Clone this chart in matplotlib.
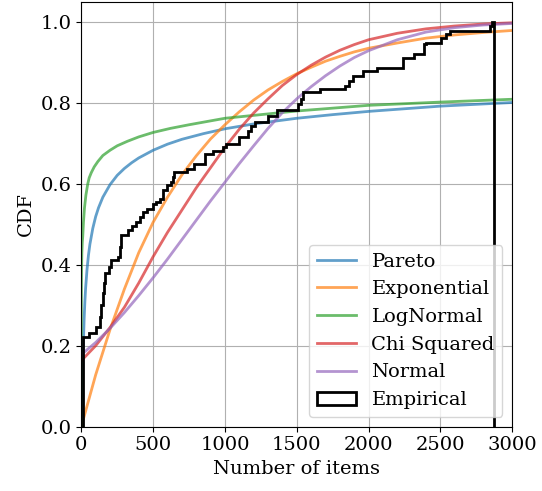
import matplotlib
matplotlib.use("Agg")
import matplotlib.pyplot as plt

plt.rcParams['font.family'] = ['DejaVu Serif']
plt.rcParams['font.size'] = 14

# common x grid for the smooth fits (items)
fit_x = [0, 100, 200, 300, 400, 500, 600, 700, 800, 900, 1000, 1100, 1200, 1300,
         1400, 1500, 1600, 1700, 1800, 1900, 2000, 2200, 2400, 2600, 2800, 3000]

expon_cdf = [0, 0.128, 0.240, 0.340, 0.430, 0.505, 0.567, 0.622, 0.669, 0.711,
             0.746, 0.778, 0.807, 0.832, 0.853, 0.872, 0.888, 0.903, 0.915, 0.926,
             0.935, 0.948, 0.960, 0.968, 0.974, 0.979]
chi2_cdf = [0.163, 0.200, 0.245, 0.295, 0.355, 0.420, 0.480, 0.535, 0.590, 0.640,
            0.690, 0.735, 0.775, 0.810, 0.843, 0.870, 0.893, 0.913, 0.930, 0.944,
            0.956, 0.972, 0.983, 0.990, 0.995, 0.998]
normal_cdf = [0.178, 0.208, 0.243, 0.282, 0.324, 0.368, 0.414, 0.462, 0.510, 0.558,
              0.604, 0.650, 0.694, 0.737, 0.776, 0.810, 0.840, 0.867, 0.891, 0.912,
              0.929, 0.956, 0.975, 0.986, 0.9925, 0.9963]

# the heavy tailed fits need a finer grid near zero
pareto_x = [0, 6, 7, 8, 10, 12, 15, 20, 25, 30, 40, 50, 60, 80, 100, 120, 150, 200,
            250, 300, 350, 400, 500, 600, 700, 850, 1000, 1200, 1500, 1750, 2000,
            2500, 3000]
pareto_cdf = [0, 0, 0.039, 0.072, 0.124, 0.165, 0.212, 0.269, 0.310, 0.342, 0.389,
              0.424, 0.451, 0.490, 0.519, 0.541, 0.567, 0.598, 0.621, 0.638, 0.652,
              0.664, 0.683, 0.698, 0.710, 0.724, 0.736, 0.748, 0.762, 0.771, 0.779,
              0.792, 0.801]

lognorm_x = [0, 0.5, 1, 2, 4, 7, 10, 15, 22, 32, 45, 55, 70, 90, 115, 150, 200, 250,
             320, 400, 500, 620, 750, 1000, 1500, 2000, 2500, 3000]
lognorm_cdf = [0, 0.30, 0.35, 0.39, 0.43, 0.455, 0.47, 0.505, 0.54, 0.572, 0.60,
               0.615, 0.628, 0.642, 0.655, 0.670, 0.683, 0.694, 0.705, 0.716, 0.727,
               0.737, 0.746, 0.762, 0.780, 0.794, 0.802, 0.809]

# empirical cumulative histogram: bin edges and cumulative value of each bin
emp_edges = [10, 14, 55, 100, 130, 140, 148, 155, 162, 168, 190, 208, 258, 268, 278,
             326, 356, 381, 409, 431, 456, 501, 517, 547, 572, 597, 624, 637, 647,
             738, 788, 858, 918, 988, 1008, 1099, 1159, 1184, 1209, 1299, 1364, 1510,
             1530, 1545, 1660, 1836, 1861, 1891, 1962, 2062, 2237, 2318, 2383, 2403,
             2503, 2538, 2569, 2845, 2862, 2870]
emp_cdf = [0.19, 0.222, 0.231, 0.247, 0.27, 0.30, 0.33, 0.355, 0.37, 0.379, 0.394,
           0.411, 0.42, 0.445, 0.473, 0.485, 0.497, 0.506, 0.518, 0.53, 0.539, 0.551,
           0.555, 0.563, 0.584, 0.596, 0.604, 0.617, 0.629, 0.637, 0.649, 0.674,
           0.68, 0.69, 0.699, 0.715, 0.731, 0.744, 0.752, 0.768, 0.782, 0.797, 0.81,
           0.826, 0.834, 0.842, 0.855, 0.867, 0.879, 0.887, 0.912, 0.92, 0.945,
           0.949, 0.961, 0.97, 0.978, 0.99, 1.0]

fig = plt.figure(figsize=(5.42, 4.91), dpi=100)
ax = fig.add_axes([0.150, 0.131, 0.795, 0.8655])

lw = 2
ax.plot(pareto_x, pareto_cdf, color='C0', alpha=0.7, lw=lw, label='Pareto')
ax.plot(fit_x, expon_cdf, color='C1', alpha=0.7, lw=lw, label='Exponential')
ax.plot(lognorm_x, lognorm_cdf, color='C2', alpha=0.7, lw=lw, label='LogNormal')
ax.plot(fit_x, chi2_cdf, color='C3', alpha=0.7, lw=lw, label='Chi Squared')
ax.plot(fit_x, normal_cdf, color='C4', alpha=0.7, lw=lw, label='Normal')
# step histogram, one bin per step, height = cumulative value
ax.hist(emp_edges[:-1], bins=emp_edges, weights=emp_cdf, histtype='step',
        color='black', lw=2, label='Empirical')

ax.set_xlim(0, 3000)
ax.set_ylim(0, 1.05)
ax.set_yticks([0.0, 0.2, 0.4, 0.6, 0.8, 1.0])
ax.grid(True)
ax.set_xlabel('Number of items')
ax.set_ylabel('CDF')
ax.legend(loc='lower right')

plt.savefig('out.png', dpi=100)
